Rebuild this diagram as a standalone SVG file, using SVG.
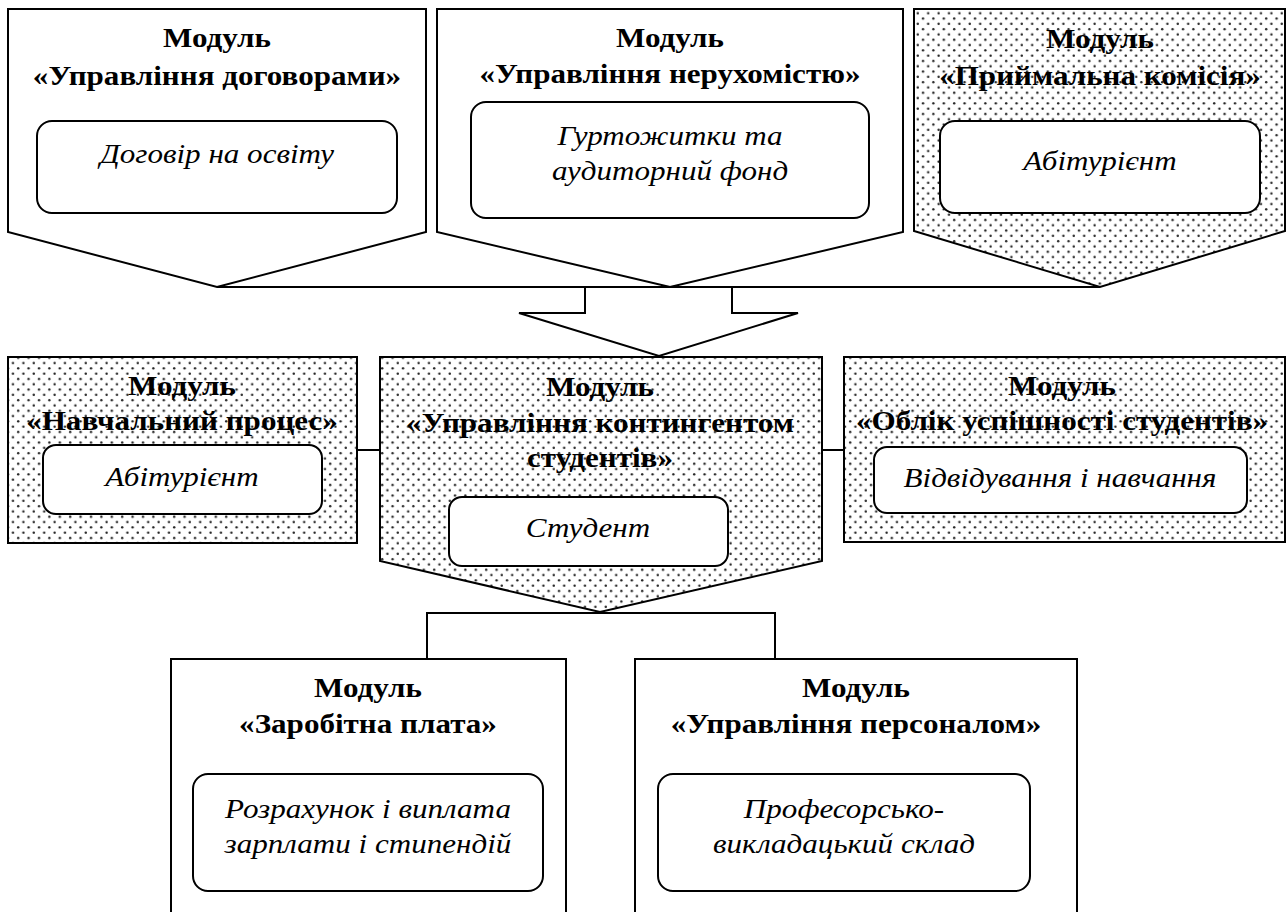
<svg xmlns="http://www.w3.org/2000/svg" width="1287" height="912" viewBox="0 0 1287 912">
<defs>
<pattern id="dots" width="10.4" height="10.6" patternUnits="userSpaceOnUse">
<rect width="10.4" height="10.6" fill="#fff"/>
<circle cx="2.6" cy="2.6" r="1.2" fill="#222"/>
<circle cx="7.8" cy="7.9" r="1.2" fill="#222"/>
</pattern>
</defs>
<style>
.sh{fill:#fff;stroke:#000;stroke-width:2}
.dt{fill:url(#dots);stroke:#000;stroke-width:2}
.rr{fill:#fff;stroke:#000;stroke-width:2}
.ln{fill:none;stroke:#000;stroke-width:2}
.t{font-family:"Liberation Serif","Times New Roman",serif;font-size:28px;font-weight:bold;text-anchor:middle;fill:#000}
.i{font-family:"Liberation Serif","Times New Roman",serif;font-size:28px;font-style:italic;text-anchor:middle;fill:#000}
</style>
<g id="connectors">
<polyline class="ln" points="217,287 1100,287"/>
<polygon class="sh" points="585,287 732,287 732,313 798,313 659,356 519,313 585,313"/>
<line class="ln" x1="357" y1="450" x2="380" y2="450"/>
<line class="ln" x1="822" y1="450" x2="844" y2="450"/>
<polyline class="ln" points="427,659 427,613 775,613 775,659"/>
</g>
<g id="n-dogovory">
<polygon class="sh" points="8,9 426,9 426,232 217,287 8,232"/>
<text class="t" transform="translate(217,47) scale(1.11,1)">Модуль</text>
<text class="t" transform="translate(217,85) scale(1.11,1)">«Управління договорами»</text>
<rect class="rr" x="37" y="121" width="360" height="92" rx="15"/>
<text class="i" transform="translate(217,163) scale(1.11,1)">Договір на освіту</text>
</g>
<g id="n-nerukhomist">
<polygon class="sh" points="437,9 903,9 903,232 670,287 437,232"/>
<text class="t" transform="translate(670,47) scale(1.11,1)">Модуль</text>
<text class="t" transform="translate(670,83) scale(1.11,1)">«Управління нерухомістю»</text>
<rect class="rr" x="471" y="102" width="398" height="116" rx="15"/>
<text class="i" transform="translate(670,145) scale(1.11,1)">Гуртожитки та</text>
<text class="i" transform="translate(670,180) scale(1.11,1)">аудиторний фонд</text>
</g>
<g id="n-pryimalna">
<polygon class="dt" points="914,9 1285,9 1285,231 1100,287 914,231"/>
<text class="t" transform="translate(1100,48) scale(1.11,1)">Модуль</text>
<text class="t" transform="translate(1100,85) scale(1.11,1)">«Приймальна комісія»</text>
<rect class="rr" x="940" y="121" width="320" height="92" rx="15"/>
<text class="i" transform="translate(1100,170) scale(1.11,1)">Абітурієнт</text>
</g>
<g id="n-navchalnyi">
<rect class="dt" x="8" y="357" width="349" height="186"/>
<text class="t" transform="translate(182,395) scale(1.11,1)">Модуль</text>
<text class="t" transform="translate(182,430) scale(1.11,1)">«Навчальний процес»</text>
<rect class="rr" x="43" y="445" width="279" height="69" rx="13"/>
<text class="i" transform="translate(182,486) scale(1.11,1)">Абітурієнт</text>
</g>
<g id="n-kontyngent">
<polygon class="dt" points="380,357 822,357 822,561 600,612 380,561"/>
<text class="t" transform="translate(600,396) scale(1.11,1)">Модуль</text>
<text class="t" transform="translate(600,432) scale(1.11,1)">«Управління контингентом</text>
<text class="t" transform="translate(600,467) scale(1.11,1)">студентів»</text>
<rect class="rr" x="449" y="497" width="279" height="69" rx="13"/>
<text class="i" transform="translate(588,537) scale(1.11,1)">Студент</text>
</g>
<g id="n-oblik">
<rect class="dt" x="844" y="357" width="441" height="185"/>
<text class="t" transform="translate(1062,395) scale(1.11,1)">Модуль</text>
<text class="t" transform="translate(1062,430) scale(1.11,1)">«Облік успішності студентів»</text>
<rect class="rr" x="874" y="447" width="373" height="66" rx="13"/>
<text class="i" transform="translate(1060,487) scale(1.11,1)">Відвідування і навчання</text>
</g>
<g id="n-zarplata">
<rect class="sh" x="171" y="659" width="395" height="262"/>
<text class="t" transform="translate(368,697) scale(1.11,1)">Модуль</text>
<text class="t" transform="translate(368,733) scale(1.11,1)">«Заробітна плата»</text>
<rect class="rr" x="193" y="774" width="350" height="117" rx="15"/>
<text class="i" transform="translate(368,818) scale(1.11,1)">Розрахунок і виплата</text>
<text class="i" transform="translate(368,853) scale(1.11,1)">зарплати і стипендій</text>
</g>
<g id="n-personal">
<rect class="sh" x="635" y="659" width="442" height="262"/>
<text class="t" transform="translate(856,697) scale(1.11,1)">Модуль</text>
<text class="t" transform="translate(856,733) scale(1.11,1)">«Управління персоналом»</text>
<rect class="rr" x="658" y="774" width="372" height="117" rx="15"/>
<text class="i" transform="translate(844,818) scale(1.11,1)">Професорсько-</text>
<text class="i" transform="translate(844,853) scale(1.11,1)">викладацький склад</text>
</g>
</svg>
